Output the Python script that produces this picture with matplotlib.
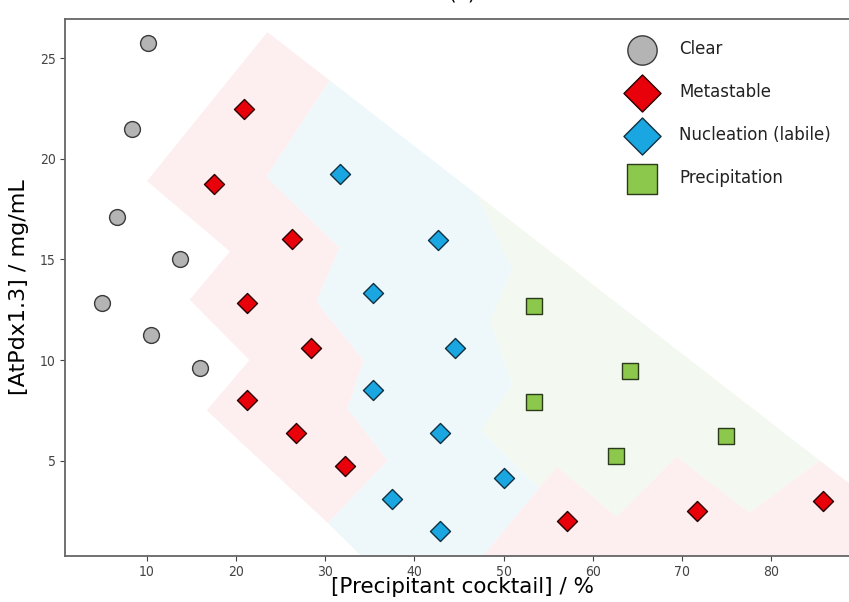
import numpy as np
import matplotlib
matplotlib.use('Agg')
import matplotlib.pyplot as plt

# points
clear_x = [10.1, 8.3, 6.6, 13.7, 4.9, 10.4, 15.9]
clear_y = [25.75, 21.5, 17.1, 15.0, 12.85, 11.25, 9.6]

meta_x = [20.9, 17.5, 26.3, 21.2, 28.4, 21.2, 26.7, 32.2, 57.1, 71.7, 85.8]
meta_y = [22.5, 18.75, 16.0, 12.85, 10.6, 8.0, 6.4, 4.75, 2.0, 2.5, 3.0]

nuc_x = [31.6, 42.6, 35.4, 44.6, 35.4, 42.9, 37.5, 50.0, 42.9]
nuc_y = [19.25, 15.95, 13.35, 10.6, 8.5, 6.4, 3.1, 4.15, 1.5]

prec_x = [53.4, 64.2, 53.4, 75.0, 62.6]
prec_y = [12.7, 9.45, 7.9, 6.25, 5.25]

labels = ['Clear', 'Metastable', 'Nucleation (labile)', 'Precipitation']

# shaded zones (polygon corners)
pink_a_x = [23.5, 10.0, 19.3, 14.8, 21.5, 16.7, 30.3, 37.0, 32.5, 34.3, 29.0, 31.6, 23.4, 30.5]
pink_a_y = [26.3, 18.9, 15.4, 13.0, 10.0, 7.5, 1.9, 5.0, 7.6, 10.0, 12.9, 15.6, 19.1, 23.9]

blue_x = [30.5, 47.0, 51.0, 48.5, 51.0, 47.5, 54.0, 47.7, 34.0, 30.3, 37.0, 32.5, 34.3, 29.0, 31.6, 23.4]
blue_y = [23.9, 18.23, 14.5, 12.0, 8.8, 6.5, 3.63, 0.28, 0.28, 1.9, 5.0, 7.6, 10.0, 12.9, 15.6, 19.1]

green_x = [47.0, 85.5, 77.6, 69.4, 62.7, 56.0, 54.0, 47.5, 51.0, 48.5, 51.0]
green_y = [18.23, 5.0, 2.4, 5.2, 2.2, 4.7, 3.63, 6.5, 8.8, 12.0, 14.5]

pink_b_x = [47.7, 54.0, 56.0, 62.7, 69.4, 77.6, 85.5, 90.0, 90.0]
pink_b_y = [0.28, 3.63, 4.7, 2.2, 5.2, 2.4, 5.0, 3.45, 0.28]

fig = plt.figure(figsize=(8.49, 6.02), dpi=100)
ax = fig.add_axes([0.0766, 0.0769, 0.9364, 0.8915])

ax.fill(pink_a_x, pink_a_y, color='#fdefef', lw=0, zorder=0)
ax.fill(blue_x, blue_y, color='#eef8fb', lw=0, zorder=0)
ax.fill(green_x, green_y, color='#f3f8f0', lw=0, zorder=0)
ax.fill(pink_b_x, pink_b_y, color='#fdefef', lw=0, zorder=0)

ax.scatter(clear_x, clear_y, s=130, marker='o', c='#b4b4b4', edgecolors='#3a3a3a', linewidths=1, label=labels[0], zorder=3)
ax.scatter(meta_x, meta_y, s=104, marker='D', c='#e8000b', edgecolors='#2a0000', linewidths=1, label=labels[1], zorder=3)
ax.scatter(nuc_x, nuc_y, s=104, marker='D', c='#1aa6e0', edgecolors='#10303f', linewidths=1, label=labels[2], zorder=3)
ax.scatter(prec_x, prec_y, s=144, marker='s', c='#8cc84b', edgecolors='#2a3a1a', linewidths=1, label=labels[3], zorder=3)

ax.set_xlim(0.8, 90)
ax.set_ylim(0.28, 26.95)
ax.set_xticks(np.arange(10, 90, 10))
ax.set_yticks(np.arange(5, 30, 5))
ax.tick_params(labelsize=10, colors='#444444', length=3.5, pad=3)
for lab in ax.get_xticklabels() + ax.get_yticklabels():
    lab.set_fontstretch('condensed')
for sp in ax.spines.values():
    sp.set_color('#666666')
    sp.set_linewidth(1.3)

ax.set_xlabel('[Precipitant cocktail] / %', fontsize=15.5, labelpad=-1)
ax.set_ylabel('[AtPdx1.3] / mg/mL', fontsize=16, labelpad=8)
ax.set_title('(b)', fontsize=14, pad=14)

leg = ax.legend(loc='upper left', bbox_to_anchor=(625 / 849, 1 - 40 / 602),
                bbox_transform=fig.transFigure, frameon=False, fontsize=12,
                markerscale=1.85, labelspacing=1.5, handletextpad=1.26,
                borderpad=0, borderaxespad=0)
for t in leg.get_texts():
    t.set_color('#222222')

fig.savefig('out.png', dpi=100)
